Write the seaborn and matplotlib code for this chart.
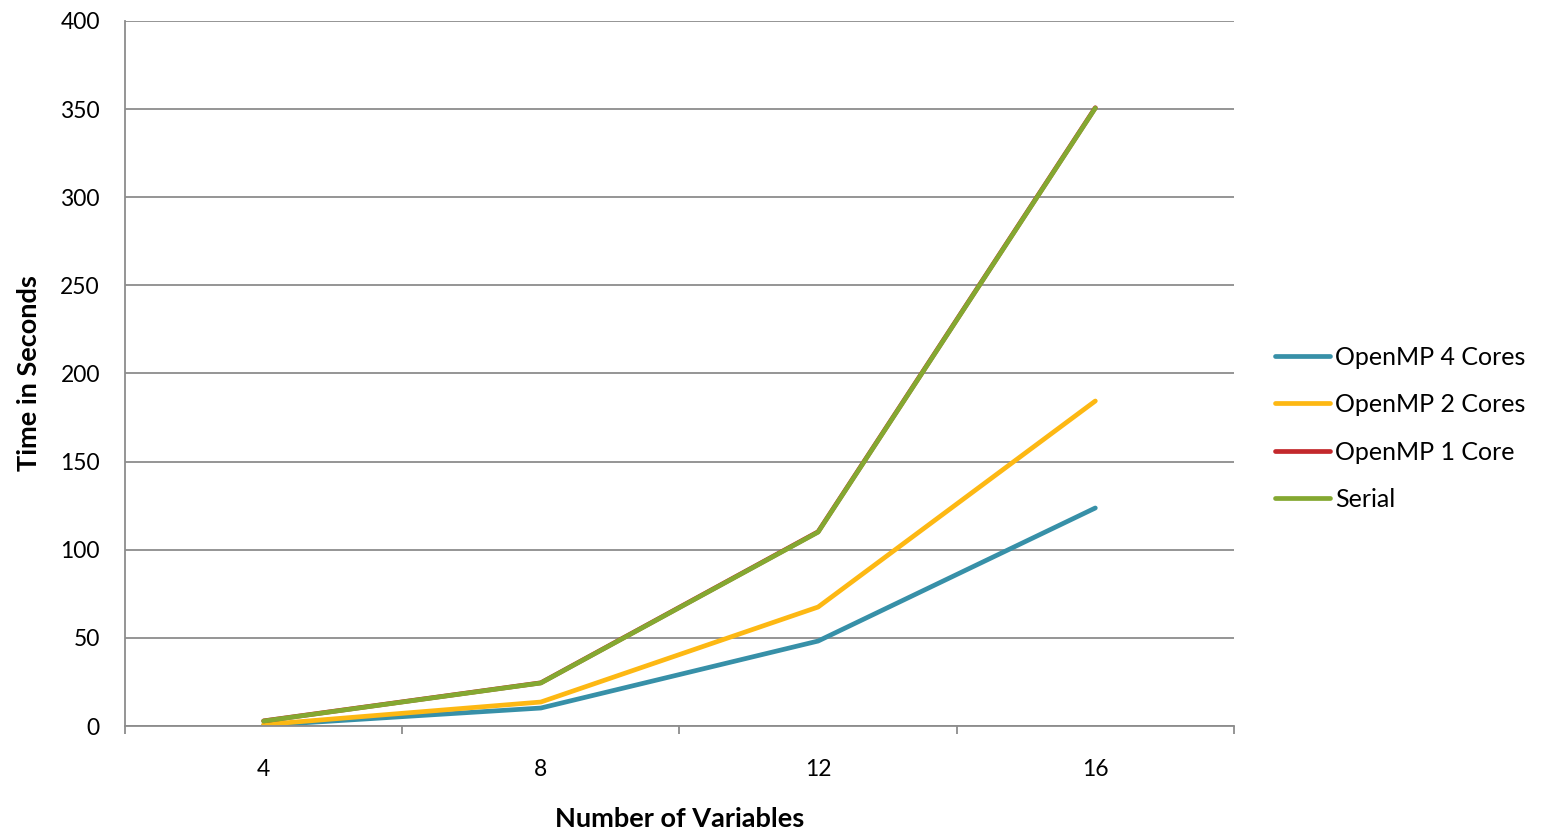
import pandas as pd
import numpy as np
import matplotlib
matplotlib.use("Agg")
import matplotlib.pyplot as plt
import seaborn as sns

# -----------------------------
# Data
# -----------------------------
variables = ["4", "8", "12", "16"]
openmp_4 = [0.4, 10.2, 48.2, 123.7]
openmp_2 = [0.8, 13.6, 67.5, 184.4]
openmp_1 = [2.9, 24.5, 110.2, 350.8]
serial = [2.8, 24.4, 110.0, 350.6]

series_names = ["OpenMP 4 Cores", "OpenMP 2 Cores", "OpenMP 1 Core", "Serial"]
series_values = [openmp_4, openmp_2, openmp_1, serial]
colors = ["#3790A8", "#FDB813", "#C3282C", "#84A831"]

rows = []
for name, vals in zip(series_names, series_values):
    for v, t in zip(variables, vals):
        rows.append({"Variables": v, "Time": t, "Series": name})
df = pd.DataFrame(rows)

# -----------------------------
# Plot
# -----------------------------
sns.set_style("white")
plt.rcParams["font.family"] = ["Lato", "DejaVu Sans"]
plt.rcParams["text.color"] = "black"
plt.rcParams["xtick.color"] = "black"
plt.rcParams["ytick.color"] = "black"
plt.rcParams["axes.labelcolor"] = "black"

fig = plt.figure(figsize=(15.43, 8.30), dpi=100)
ax = fig.add_axes([0.081, 0.1253, 0.7187, 0.8494])

sns.lineplot(
    data=df, x="Variables", y="Time", hue="Series",
    hue_order=series_names, palette=colors,
    linewidth=3.4, ax=ax, sort=False,
)

ax.set_ylim(0, 400)
ax.set_yticks(np.arange(0, 401, 50))
ax.set_xlim(-0.5, len(variables) - 0.5)
ax.set_xticks(range(len(variables)))
ax.set_xticklabels(variables)
ax.set_xticks(np.arange(-0.5, len(variables), 1), minor=True)

ax.yaxis.grid(True, color="#8c8c8c", linewidth=1.3)
ax.set_axisbelow(True)
for s in ["top", "right"]:
    ax.spines[s].set_visible(False)
for s in ["left", "bottom"]:
    ax.spines[s].set_color("#8c8c8c")
    ax.spines[s].set_linewidth(1.3)

ax.tick_params(axis="y", which="major", length=7, width=1.3, color="#8c8c8c",
               labelsize=16.5, pad=11)
ax.tick_params(axis="x", which="major", length=0, labelsize=16.5, pad=24)
ax.tick_params(axis="x", which="minor", length=6, width=1.3, color="#8c8c8c",
               direction="out", bottom=True)

ax.set_xlabel("Number of Variables", fontsize=19.5, fontweight="bold", labelpad=19)
ax.set_ylabel("Time in Seconds", fontsize=19.5, fontweight="bold", labelpad=14)

ax.legend(
    loc="center left", bbox_to_anchor=(1.037, 0.422), frameon=False,
    borderpad=0, borderaxespad=0,
    fontsize=18, handlelength=2.2, handletextpad=0.2, labelspacing=0.98,
    title=None,
)

plt.savefig("out.png", dpi=100)
